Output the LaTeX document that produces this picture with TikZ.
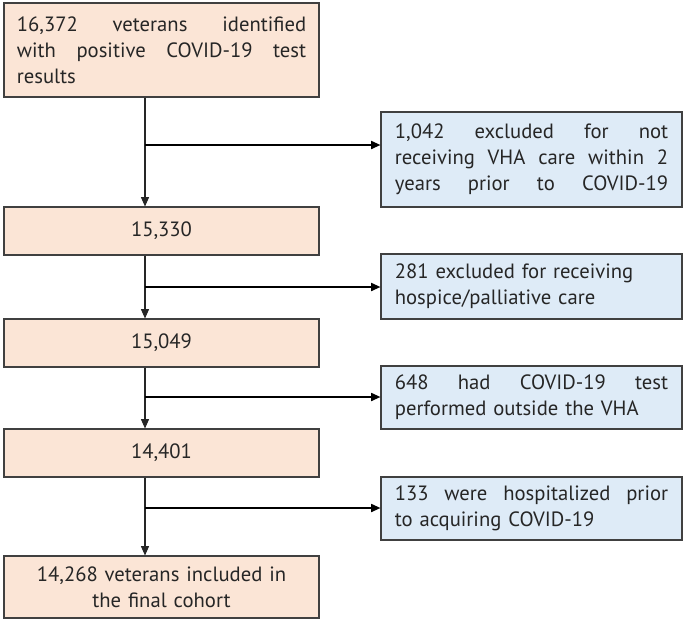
\documentclass[tikz,border=0pt]{standalone}
\usepackage{fontspec}
\setmainfont{PT Sans}
\usetikzlibrary{arrows.meta}
\definecolor{peach}{HTML}{FBE5D6}
\definecolor{lblue}{HTML}{DEEBF7}
\definecolor{edge}{HTML}{404040}
\definecolor{txt}{HTML}{262626}
\newcommand{\jl}[2]{\leavevmode\hbox to #1{\spaceskip=0.25em plus 1fil\relax #2}}
\begin{document}
\begin{tikzpicture}[x=0.75pt,y=-0.75pt,
  box/.style={draw=edge,line width=0.8pt,rectangle,inner xsep=9.5pt,inner ysep=0pt,
    font=\fontsize{15.5}{19.5}\selectfont,text=txt},
  pbox/.style={box,fill=peach,minimum width=236.25pt,text width=217pt},
  bbox/.style={box,fill=lblue,minimum width=225.75pt,text width=205pt},
  vline/.style={line width=0.8pt,black!85,-{Triangle[length=7pt,width=6pt]}},
  hline/.style={line width=1.3pt,black,-{Triangle[length=7pt,width=6pt]}}]
\useasboundingbox (0,0) rectangle (685,622);
\node[pbox,minimum height=70.5pt,align=left] (a) at (161.5,50)
  {\jl{217pt}{16,372 veterans identified}\\\jl{217pt}{with positive COVID-19 test}\\results};
\node[pbox,minimum height=36pt,align=center] (b) at (161.5,231) {15,330};
\node[pbox,minimum height=36pt,align=center] (c) at (161.5,343) {15,049};
\node[pbox,minimum height=36pt,align=center] (d) at (161.5,453) {14,401};
\node[pbox,minimum height=46.5pt,align=center] (e) at (161.5,587)
  {14,268 veterans included in\\the final cohort};
\node[bbox,minimum height=71.25pt,align=left] (x1) at (531.5,159.5)
  {\jl{205pt}{1,042 excluded for not}\\\jl{205pt}{receiving VHA care within 2}\\\jl{205pt}{years prior to COVID-19}};
\node[bbox,minimum height=48.75pt,align=left] (x2) at (531.5,286.5)
  {281 excluded for receiving\\hospice/palliative care};
\node[bbox,minimum height=47.25pt,align=left] (x3) at (531.5,397.5)
  {\jl{205pt}{648 had COVID-19 test}\\performed outside the VHA};
\node[bbox,minimum height=47.25pt,align=left] (x4) at (531.5,508.5)
  {\jl{205pt}{133 were hospitalized prior}\\to acquiring COVID-19};
\coordinate (j1) at (145,145);
\coordinate (j2) at (145,287);
\coordinate (j3) at (145,397);
\coordinate (j4) at (145,508);
\draw[vline] (a.south -| j1) -- (b.north -| j1);
\draw[vline] (b.south -| j1) -- (c.north -| j1);
\draw[vline] (c.south -| j1) -- (d.north -| j1);
\draw[vline] (d.south -| j1) -- (e.north -| j1);
\draw[hline] (j1) -- (j1 -| x1.west);
\draw[hline] (j2) -- (j2 -| x2.west);
\draw[hline] (j3) -- (j3 -| x3.west);
\draw[hline] (j4) -- (j4 -| x4.west);
\end{tikzpicture}
\end{document}
